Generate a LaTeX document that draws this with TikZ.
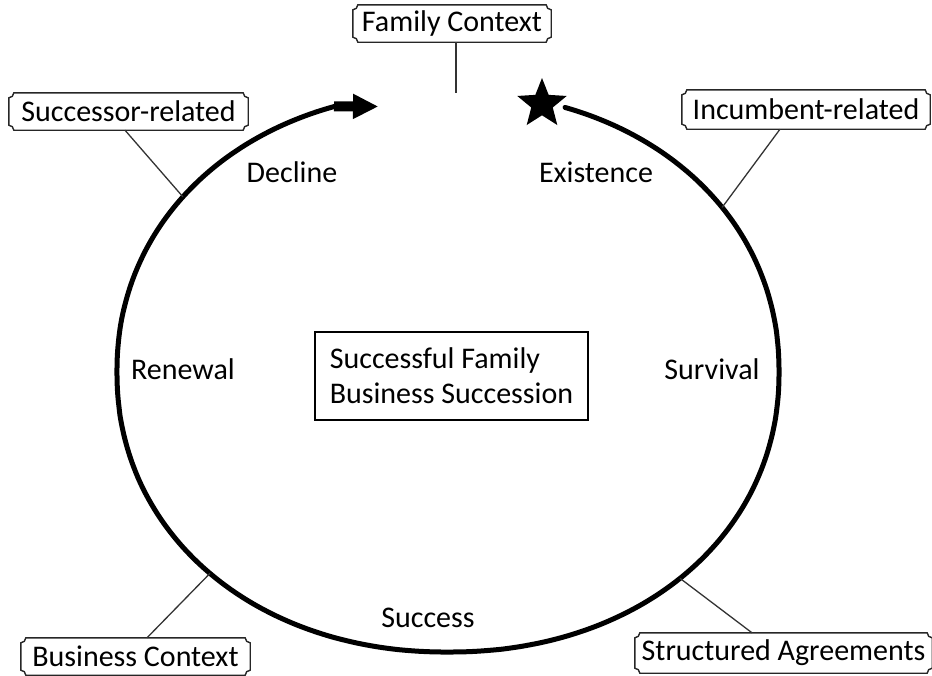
\documentclass[tikz,border=0pt]{standalone}
\usepackage{fontspec}
\setmainfont{Carlito}
\usetikzlibrary{arrows.meta,shapes.geometric,calc}

% frame with concave (plaque) corners around a named node
\newcommand\plaqueframe[1]{%
  \draw[frame] ($(#1.north west)+(5,0)$) -- ($(#1.north east)+(-5,0)$)
    arc[start angle=180,end angle=90,radius=5]
    -- ($(#1.south east)+(0,-5)$)
    arc[start angle=270,end angle=180,radius=5]
    -- ($(#1.south west)+(5,0)$)
    arc[start angle=0,end angle=-90,radius=5]
    -- ($(#1.north west)+(0,5)$)
    arc[start angle=90,end angle=0,radius=5] -- cycle;}

\begin{document}
\begin{tikzpicture}[x=1pt,y=-1pt,
  declare function={
    sx(\t)=448+331*sign(cos(\t))*pow(abs(cos(\t))+0.0001,0.952);
    sy(\t)=372+280*sign(sin(\t))*pow(abs(sin(\t))+0.0001,0.952);
  },
  every node/.style={font=\fontsize{30}{35}\selectfont, text=black},
  tag/.style={inner sep=0pt, minimum height=37pt},
  phase/.style={inner sep=0pt},
  ring/.style={line width=5pt, line cap=round},
  leader/.style={line width=1.3pt, draw=black!80},
  frame/.style={line width=1.4pt, draw=black!85},
  corebox/.style={draw, line width=1.5pt, align=left, inner sep=0pt},
]
\useasboundingbox (0,0) rectangle (932,675);

% cycle ring (slightly squarish ellipse) ending in a block arrow
\coordinate (tip) at (378,106.5);
\draw[ring, -{Triangle[length=25pt,width=24pt]}]
  plot[domain=-70.4:251.13, samples=200, smooth] ({sx(\x)},{sy(\x)}) -- (tip);
\draw[line width=10pt] (334,106.4) -- (356,106.5);

% star at the start of the cycle
\node[star, star points=5, star point ratio=2.3, fill=black, inner sep=0pt,
      minimum size=52pt] (star) at (542,104) {};

% centre box
\node[corebox, minimum width=273pt, minimum height=88pt] (core) at (451.5,376)
  {Successful Family\\Business Succession};

% phases of the cycle
\node[phase] (decl)  at (292,172) {Decline};
\node[phase] (exis)  at (596,172) {Existence};
\node[phase] (renew) at (183,369) {Renewal};
\node[phase] (surv)  at (712,369) {Survival};
\node[phase] (succs) at (428,618) {Success};

% factor tags
\node[tag, minimum width=198pt] (fam)  at (452,23.5)   {Family Context};
\node[tag, minimum width=239pt] (succ) at (128.5,111.5) {Successor-related};
\node[tag, minimum width=248pt, minimum height=39pt] (inc) at (806,109.5) {Incumbent-related};
\node[tag, minimum width=229pt] (bus)  at (135.5,656.5) {Business Context};
\node[tag, minimum width=297pt, minimum height=40pt] (str) at (783.5,653) {Structured Agreements};
\foreach \n in {fam,succ,inc,bus,str} {\plaqueframe{\n}}

% leader lines from the tags to the ring
\coordinate (famEnd) at (456,93);
\coordinate (pSucc) at ({sx(217.65)},{sy(217.65)});
\coordinate (pInc)  at ({sx(-34.9)},{sy(-34.9)});
\coordinate (pBus)  at ({sx(135)},{sy(135)});
\coordinate (pStr)  at ({sx(46.5)},{sy(46.5)});
\draw[leader] (famEnd |- fam.south) -- (famEnd);
\draw[leader] ([xshift=-3.5pt]succ.south) -- (pSucc);
\draw[leader] ([xshift=-26pt]inc.south) -- (pInc);
\draw[leader] ([xshift=11.5pt]bus.north) -- (pBus);
\draw[leader] ([xshift=-31.5pt]str.north) -- (pStr);
\end{tikzpicture}
\end{document}
